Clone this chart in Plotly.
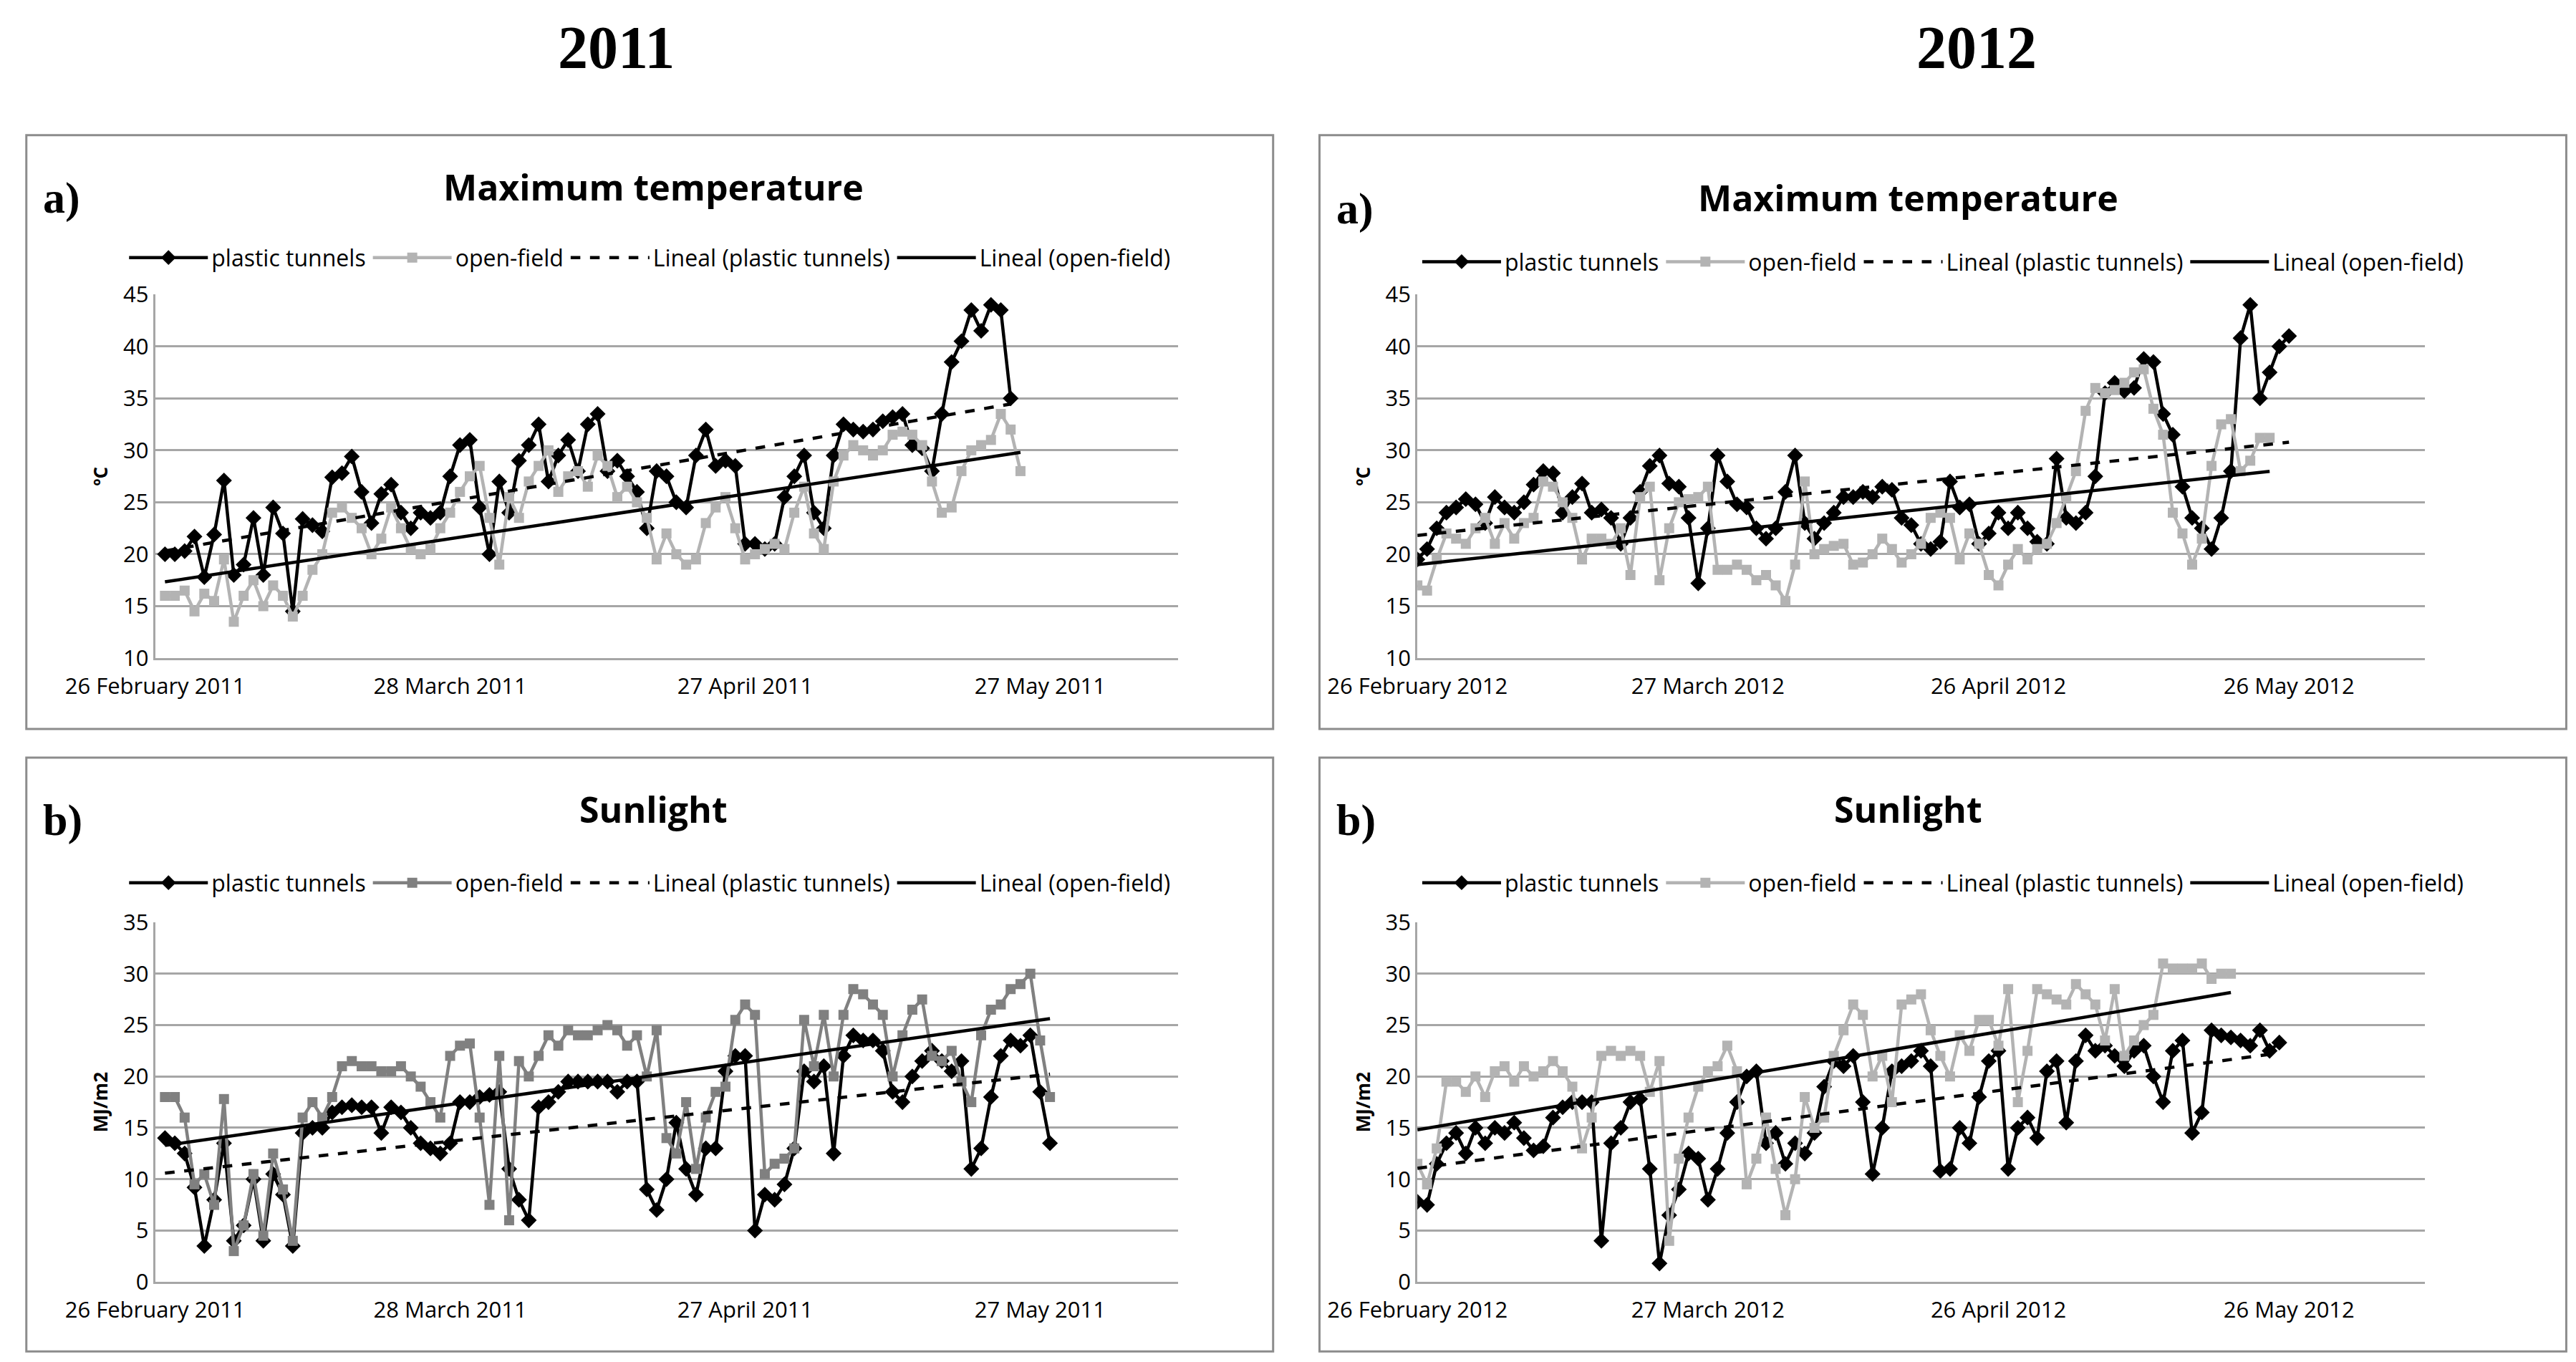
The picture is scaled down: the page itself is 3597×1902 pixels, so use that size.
import numpy as np
import pandas as pd
import plotly.graph_objects as go

# daily values (day 0 = first point)
tmax_tunnel_2011 = [20, 20, 20.3, 21.7, 17.8, 21.9, 27.1, 18, 19, 23.5, 18, 24.5, 22, 14.5, 23.4, 22.8, 22.2,
                    27.4, 27.8, 29.4, 26, 23, 25.8, 26.7, 24, 22.5, 24, 23.5, 24, 27.5, 30.5, 31, 24.5, 20, 27,
                    24, 29, 30.5, 32.5, 27, 29.5, 31, 28, 32.5, 33.5, 28, 29, 27.5, 26, 22.5, 28, 27.5, 25, 24.5,
                    29.5, 32, 28.5, 29, 28.5, 21, 21, 20.5, 21, 25.5, 27.5, 29.5, 24, 22.5, 29.5, 32.5, 32, 31.8,
                    32, 32.8, 33.2, 33.5, 30.5, 30.2, 28, 33.5, 38.5, 40.5, 43.5, 41.5, 44, 43.5, 35]
tmax_open_2011 = [16, 16, 16.5, 14.5, 16.2, 15.5, 19.5, 13.5, 16, 17.5, 15, 17, 16, 14, 16, 18.5, 20, 24, 24.5,
                  23.5, 22.5, 20, 21.5, 24.5, 22.5, 20.5, 20, 20.5, 22.5, 24, 26, 27.5, 28.5, 23.5, 19, 25.5,
                  23.5, 27, 28.5, 30, 26, 27.5, 28, 26.5, 29.5, 28.5, 25.5, 26.5, 25, 23.5, 19.5, 22, 20, 19,
                  19.5, 23, 24.5, 25.5, 22.5, 19.5, 20, 20.5, 21, 20.5, 24, 26.5, 22, 20.5, 27, 29.5, 30.5, 30,
                  29.5, 30, 31.5, 31.8, 31.5, 30.5, 27, 24, 24.5, 28, 30, 30.5, 31, 33.5, 32, 28]
tmax_tunnel_2012 = [19.5, 20.5, 22.5, 24, 24.5, 25.3, 24.8, 23, 25.5, 24.5, 24, 25, 26.7, 28, 27.8, 24, 25.5,
                    26.8, 24, 24.3, 23.5, 21, 23.5, 26, 28.5, 29.5, 26.8, 26.5, 23.5, 17.2, 22.5, 29.5, 27, 24.8,
                    24.5, 22.5, 21.5, 22.5, 26, 29.5, 23, 21.5, 23, 24, 25.5, 25.5, 26, 25.5, 26.5, 26.2, 23.5,
                    22.8, 21, 20.5, 21.2, 27, 24.5, 24.8, 21, 22, 24, 22.5, 24, 22.5, 21.2, 21, 29.2, 23.5, 23,
                    24, 27.5, 35.5, 36.5, 35.7, 36, 38.8, 38.5, 33.5, 31.5, 26.5, 23.5, 22.5, 20.5, 23.5, 28,
                    40.8, 44, 35, 37.5, 40, 41]
tmax_open_2012 = [17, 16.5, 19.5, 22, 21.5, 21, 22.5, 23.5, 21, 23, 21.5, 23, 23.5, 27, 26.5, 25, 23.5, 19.5,
                  21.5, 21.5, 21, 22.5, 18, 25.5, 26.5, 17.5, 22.5, 25, 25.3, 25.5, 26.5, 18.5, 18.5, 19, 18.5,
                  17.5, 18, 17, 15.5, 19, 27, 20, 20.5, 20.8, 21, 19, 19.2, 20, 21.5, 20.5, 19.2, 20, 21, 23.5,
                  24, 23.5, 19.5, 22, 21, 18, 17, 19, 20.5, 19.5, 20.5, 21, 23, 25.5, 28, 33.8, 36, 35.5, 35.8,
                  36.5, 37.5, 37.8, 34, 31.5, 24, 22, 19, 21.5, 28.5, 32.5, 33, 28, 29, 31.2, 31.2]
sun_tunnel_2011 = [14, 13.5, 12.5, 9.2, 3.5, 8, 13.5, 4, 5.5, 10, 4, 10.5, 8.5, 3.5, 14.5, 15, 15, 16.5, 17,
                   17.2, 17, 17, 14.5, 17, 16.5, 15, 13.5, 13, 12.5, 13.5, 17.5, 17.5, 18, 18.2, 18.5, 11, 8, 6,
                   17, 17.5, 18.5, 19.5, 19.5, 19.5, 19.5, 19.5, 18.5, 19.5, 19.5, 9, 7, 10, 15.5, 11, 8.5, 13,
                   13, 20.5, 22, 22, 5, 8.5, 8, 9.5, 13, 20.5, 19.5, 21, 12.5, 22, 24, 23.5, 23.5, 22.5, 18.5,
                   17.5, 20, 21.5, 22.5, 21.5, 20.5, 21.5, 11, 13, 18, 22, 23.5, 23, 24, 18.5, 13.5]
sun_open_2011 = [18, 18, 16, 9.5, 10.5, 7.5, 17.8, 3, 5.5, 10.5, 4.5, 12.5, 9, 4, 16, 17.5, 16, 18, 21, 21.5,
                 21, 21, 20.5, 20.5, 21, 20, 19, 17.5, 16, 22, 23, 23.2, 16, 7.5, 22, 6, 21.5, 20, 22, 24, 23,
                 24.5, 24, 24, 24.5, 25, 24.5, 23, 24, 20, 24.5, 14, 12.5, 17.5, 11, 16, 18.5, 19, 25.5, 27, 26,
                 10.5, 11.5, 12, 13, 25.5, 21, 26, 20, 26, 28.5, 28, 27, 26, 20, 24, 26.5, 27.5, 22, 21.5, 22.5,
                 19.5, 17.5, 24, 26.5, 27, 28.5, 29, 30, 23.5, 18]
sun_tunnel_2012 = [7.8, 7.5, 11.5, 13.5, 14.5, 12.5, 15, 13.5, 15, 14.5, 15.5, 14, 12.8, 13.2, 16, 17, 17.5,
                   17.5, 17.5, 4, 13.5, 15, 17.5, 17.8, 11, 1.8, 6.5, 9, 12.5, 12, 8, 11, 14.5, 17.5, 20, 20.5,
                   13.5, 14.5, 11.5, 13.5, 12.5, 14.5, 19, 21.5, 21, 22, 17.5, 10.5, 15, 20.5, 21, 21.5, 22.5,
                   21, 10.8, 11, 15, 13.5, 18, 21.5, 22.5, 11, 15, 16, 14, 20.5, 21.5, 15.5, 21.5, 24, 22.5, 23,
                   22, 21, 22.5, 23, 20, 17.5, 22.5, 23.5, 14.5, 16.5, 24.5, 24, 23.8, 23.5, 23, 24.5, 22.5, 23.3]
sun_open_2012 = [11.5, 9.5, 13, 19.5, 19.5, 18.5, 20, 18, 20.5, 21, 19.5, 21, 20, 20.5, 21.5, 20.5, 19, 13, 16,
                 22, 22.5, 22, 22.5, 22, 18.5, 21.5, 4, 12, 16, 19, 20.5, 21, 23, 20.5, 9.5, 12, 16, 11, 6.5, 10,
                 18, 15, 16, 22, 24.5, 27, 26, 20, 22, 17.5, 27, 27.5, 28, 24.5, 22, 20, 24, 22.5, 25.5, 25.5, 23,
                 28.5, 17.5, 22.5, 28.5, 28, 27.5, 27, 29, 28, 27, 23.5, 28.5, 22, 23.5, 25, 26, 31, 30.5, 30.5,
                 30.5, 31, 29.5, 30, 30]

start_2011 = pd.Timestamp("2011-02-27")
start_2012 = pd.Timestamp("2012-02-26")
ticks_2011 = ["2011-02-26", "2011-03-28", "2011-04-27", "2011-05-27"]
ticks_2012 = ["2012-02-26", "2012-03-27", "2012-04-26", "2012-05-26"]

GRID = "#a6a6a6"
LIGHT = "#b3b3b3"
MID = "#808080"

# key, title, y label, tunnel, open, start, ticks, open colour, x domain, y domain,
# legend y, y range, dtick, box left, box top, title y
panels = [
    ("1", "Maximum temperature", "ºC", tmax_tunnel_2011, tmax_open_2011, start_2011, ticks_2011, LIGHT,
     [0.058, 0.455], [0.521, 0.788], 0.815, [10, 45], 5, 0.008, 0.905, 0.867),
    ("2", "Maximum temperature", "ºC", tmax_tunnel_2012, tmax_open_2012, start_2012, ticks_2012, LIGHT,
     [0.548, 0.939], [0.521, 0.788], 0.812, [10, 45], 5, 0.510, 0.905, 0.859),
    ("3", "Sunlight", "MJ/m2", sun_tunnel_2011, sun_open_2011, start_2011, ticks_2011, MID,
     [0.058, 0.455], [0.063, 0.327], 0.356, [0, 35], 5, 0.008, 0.448, 0.41),
    ("4", "Sunlight", "MJ/m2", sun_tunnel_2012, sun_open_2012, start_2012, ticks_2012, LIGHT,
     [0.548, 0.939], [0.063, 0.327], 0.356, [0, 35], 5, 0.510, 0.448, 0.41),
]

fig = go.Figure()
shapes = []
annotations = []
layout = {}

for k, title, ylab, tun, opn, start, ticks, ocol, xd, yd, ly, yr, dt, bx, btop, ty in panels:
    xa = "x" if k == "1" else "x" + k
    ya = "y" if k == "1" else "y" + k
    lg = "legend" if k == "1" else "legend" + k
    d_t = start + pd.to_timedelta(np.arange(len(tun)), unit="D")
    d_o = start + pd.to_timedelta(np.arange(len(opn)), unit="D")

    fig.add_trace(go.Scatter(x=d_t, y=tun, name="plastic tunnels", mode="lines+markers",
                             line=dict(color="black", width=4.5),
                             marker=dict(symbol="diamond", size=17, color="black"),
                             xaxis=xa, yaxis=ya, legend=lg))
    fig.add_trace(go.Scatter(x=d_o, y=opn, name="open-field", mode="lines+markers",
                             line=dict(color=ocol, width=4.5),
                             marker=dict(symbol="square", size=14, color=ocol),
                             xaxis=xa, yaxis=ya, legend=lg))
    # linear trend lines (Excel "Lineal")
    for vals, dates, dash, name in [(tun, d_t, "dash", "Lineal (plastic tunnels)"),
                                    (opn, d_o, "solid", "Lineal (open-field)")]:
        idx = np.arange(len(vals))
        m, b = np.polyfit(idx, vals, 1)
        fig.add_trace(go.Scatter(x=[dates[0], dates[-1]], y=[b, m * idx[-1] + b], name=name, mode="lines",
                                 line=dict(color="black", width=4.5, dash=dash),
                                 xaxis=xa, yaxis=ya, legend=lg))

    tv = [pd.Timestamp(t) for t in ticks]
    layout["xaxis" if k == "1" else "xaxis" + k] = dict(
        domain=xd, anchor=ya, type="date", range=[tv[0], tv[0] + pd.Timedelta(days=104)],
        tickvals=tv, ticktext=[t.strftime("%-d %B %Y") for t in tv], showgrid=False,
        showline=True, linecolor=GRID, linewidth=3, ticks="", tickfont=dict(size=31), ticklabelstandoff=10)
    layout["yaxis" if k == "1" else "yaxis" + k] = dict(
        domain=yd, anchor=xa, range=yr, dtick=dt, showgrid=True, gridcolor=GRID, gridwidth=3,
        showline=True, linecolor=GRID, linewidth=3, zeroline=False, ticks="", tickfont=dict(size=31),
        title=dict(text=ylab, font=dict(size=26, family="Open Sans", weight="bold"), standoff=14))
    layout[lg] = dict(orientation="h", x=bx + 0.242, xanchor="center", y=ly, yanchor="middle",
                      font=dict(size=32, family="Open Sans"), itemwidth=110, tracegroupgap=0,
                      bgcolor="rgba(0,0,0,0)")

    shapes.append(dict(type="rect", xref="paper", yref="paper", x0=bx, x1=bx + 0.484, y0=btop - 0.436, y1=btop,
                       line=dict(color="#8c8c8c", width=3)))
    annotations.append(dict(text="a)" if k in "12" else "b)", xref="paper", yref="paper", x=bx + 0.006,
                            y=ty - 0.008, xanchor="left", yanchor="middle", showarrow=False,
                            font=dict(size=62, family="Liberation Serif", color="black", weight="bold")))
    annotations.append(dict(text=title, xref="paper", yref="paper", x=(xd[0] + xd[1]) / 2 - 0.005,
                            y=ty, xanchor="center", yanchor="middle", showarrow=False,
                            font=dict(size=50, family="Open Sans", color="black", weight="bold")))

for txt, x in [("2011", 0.237), ("2012", 0.765)]:
    annotations.append(dict(text=txt, xref="paper", yref="paper", x=x, y=0.995, xanchor="center", yanchor="top",
                            showarrow=False, font=dict(size=84, family="Liberation Serif", color="black",
                                                       weight="bold")))

fig.update_layout(**layout)
fig.update_layout(width=3597, height=1902, paper_bgcolor="white", plot_bgcolor="white",
                  margin=dict(l=0, r=0, t=0, b=0, autoexpand=False), shapes=shapes, annotations=annotations,
                  font=dict(family="Open Sans", color="black"))

fig.write_html("out.html")
